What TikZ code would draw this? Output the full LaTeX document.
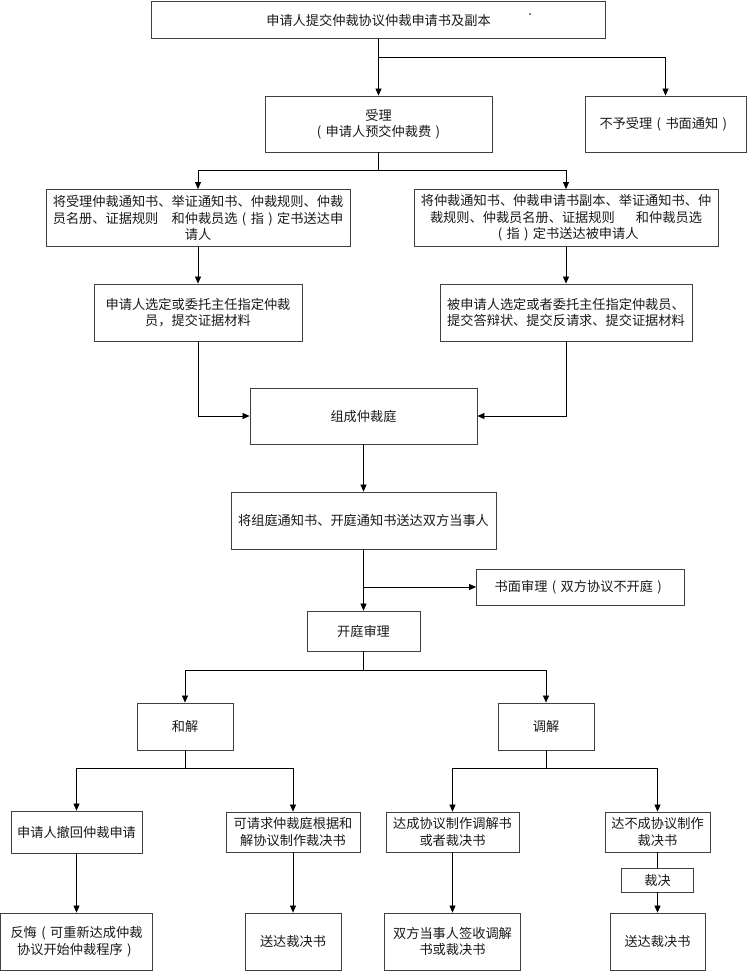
\documentclass[tikz,border=0pt]{standalone}
\usepackage{fontspec}
\newfontfamily\cjk{Noto Sans CJK SC}
\usetikzlibrary{arrows.meta}
\newcommand{\lpar}{\makebox[1em][c]{(}}
\newcommand{\rpar}{\makebox[1em][c]{)}}
\tikzset{
  box/.style={draw=black!75, line width=0.8pt, rectangle, inner sep=0pt, align=center,
    font=\cjk\fontsize{13.2}{16.5}\selectfont, text=black!90},
  arr/.style={draw=black, line width=0.7pt, -{Triangle[length=7pt,width=6pt]}},
  ln/.style={draw=black, line width=0.7pt}
}
\begin{document}
\begin{tikzpicture}[x=1pt,y=-1pt]
\useasboundingbox (0,0) rectangle (747,971);
% row 1
\node[box, minimum width=454, minimum height=37] (top) at (378.5,20) {申请人提交仲裁协议仲裁申请书及副本};
\fill (530,14) circle (0.8);
\node[box, minimum width=227, minimum height=56] (shouli) at (378.5,124) {受理\\\lpar 申请人预交仲裁费\rpar};
\node[box, minimum width=161, minimum height=56] (buyu) at (665.5,124) {不予受理\lpar 书面通知\rpar};
% row 2
\node[box, minimum width=304, minimum height=57] (L1) at (198,218) {将受理仲裁通知书、举证通知书、仲裁规则、仲裁\\员名册、证据规则\hspace{1em}和仲裁员选\lpar 指\rpar 定书送达申\\请人};
\node[box, minimum width=304, minimum height=57] (R1) at (566,218) {将仲裁通知书、仲裁申请书副本、举证通知书、仲\\裁规则、仲裁员名册、证据规则\hspace{1.6em}和仲裁员选\\\lpar 指\rpar 定书送达被申请人};
% row 3
\node[box, minimum width=208, minimum height=57] (L2) at (198,312.5) {申请人选定或委托主任指定仲裁\\员，提交证据材料};
\node[box, minimum width=252, minimum height=57] (R2) at (566,312.5) {被申请人选定或者委托主任指定仲裁员、\\提交答辩状、提交反请求、提交证据材料};
% middle
\node[box, minimum width=227, minimum height=56] (zc) at (363.5,416) {组成仲裁庭};
\node[box, minimum width=265, minimum height=57] (tz) at (363.5,520.5) {将组庭通知书、开庭通知书送达双方当事人};
\node[box, minimum width=208, minimum height=36] (sm) at (580.5,587) {书面审理\lpar 双方协议不开庭\rpar};
\node[box, minimum width=113, minimum height=40] (kt) at (363.5,631) {开庭审理};
% level 4
\node[box, minimum width=96, minimum height=47] (hj) at (185,726.5) {和解};
\node[box, minimum width=96, minimum height=47] (tj) at (546,726.5) {调解};
% level 5
\node[box, minimum width=131, minimum height=42] (b1) at (76.5,832) {申请人撤回仲裁申请};
\node[box, minimum width=134, minimum height=40] (b2) at (293,832) {可请求仲裁庭根据和\\解协议制作裁决书};
\node[box, minimum width=133, minimum height=40] (b3) at (452.5,832) {达成协议制作调解书\\或者裁决书};
\node[box, minimum width=105, minimum height=40] (b4) at (657.5,832) {达不成协议制作\\裁决书};
\node[box, minimum width=72, minimum height=24] (cj) at (657.5,880) {裁决};
% level 6
\node[box, minimum width=152, minimum height=57] (c1) at (76.5,941.5) {反悔\lpar 可重新达成仲裁\\协议开始仲裁程序\rpar};
\node[box, minimum width=96, minimum height=57] (c2) at (293,941.5) {送达裁决书};
\node[box, minimum width=136, minimum height=57] (c3) at (452.5,941.5) {双方当事人签收调解\\书或裁决书};
\node[box, minimum width=95, minimum height=57] (c4) at (657.5,941.5) {送达裁决书};
% junctions
\coordinate (j1) at (378.5,57);
\coordinate (j2) at (378.5,170);
\coordinate (j3) at (363.5,587);
\coordinate (j4) at (363.5,670);
\coordinate (j5) at (185,768);
\coordinate (j6) at (546,768);
% connectors
\draw[arr] (top.south) -- (shouli.north);
\draw[arr] (j1) -| (buyu.north);
\draw[ln] (shouli.south) -- (j2);
\draw[arr] (j2) -| (L1.north);
\draw[arr] (j2) -| (R1.north);
\draw[arr] (L1.south) -- (L2.north);
\draw[arr] (R1.south) -- (R2.north);
\draw[arr] (L2.south) |- (zc.west);
\draw[arr] (R2.south) |- (zc.east);
\draw[arr] (zc.south) -- (tz.north);
\draw[arr] (tz.south) -- (kt.north);
\draw[arr] (j3) -- (sm.west);
\draw[ln] (kt.south) -- (j4);
\draw[arr] (j4) -| (hj.north);
\draw[arr] (j4) -| (tj.north);
\draw[ln] (hj.south) -- (j5);
\draw[arr] (j5) -| (b1.north);
\draw[arr] (j5) -| (b2.north);
\draw[ln] (tj.south) -- (j6);
\draw[arr] (j6) -| (b3.north);
\draw[arr] (j6) -| (b4.north);
\draw[arr] (b1.south) -- (c1.north);
\draw[arr] (b2.south) -- (c2.north);
\draw[arr] (b3.south) -- (c3.north);
\draw[ln] (b4.south) -- (cj.north);
\draw[arr] (cj.south) -- (c4.north);
\end{tikzpicture}
\end{document}
